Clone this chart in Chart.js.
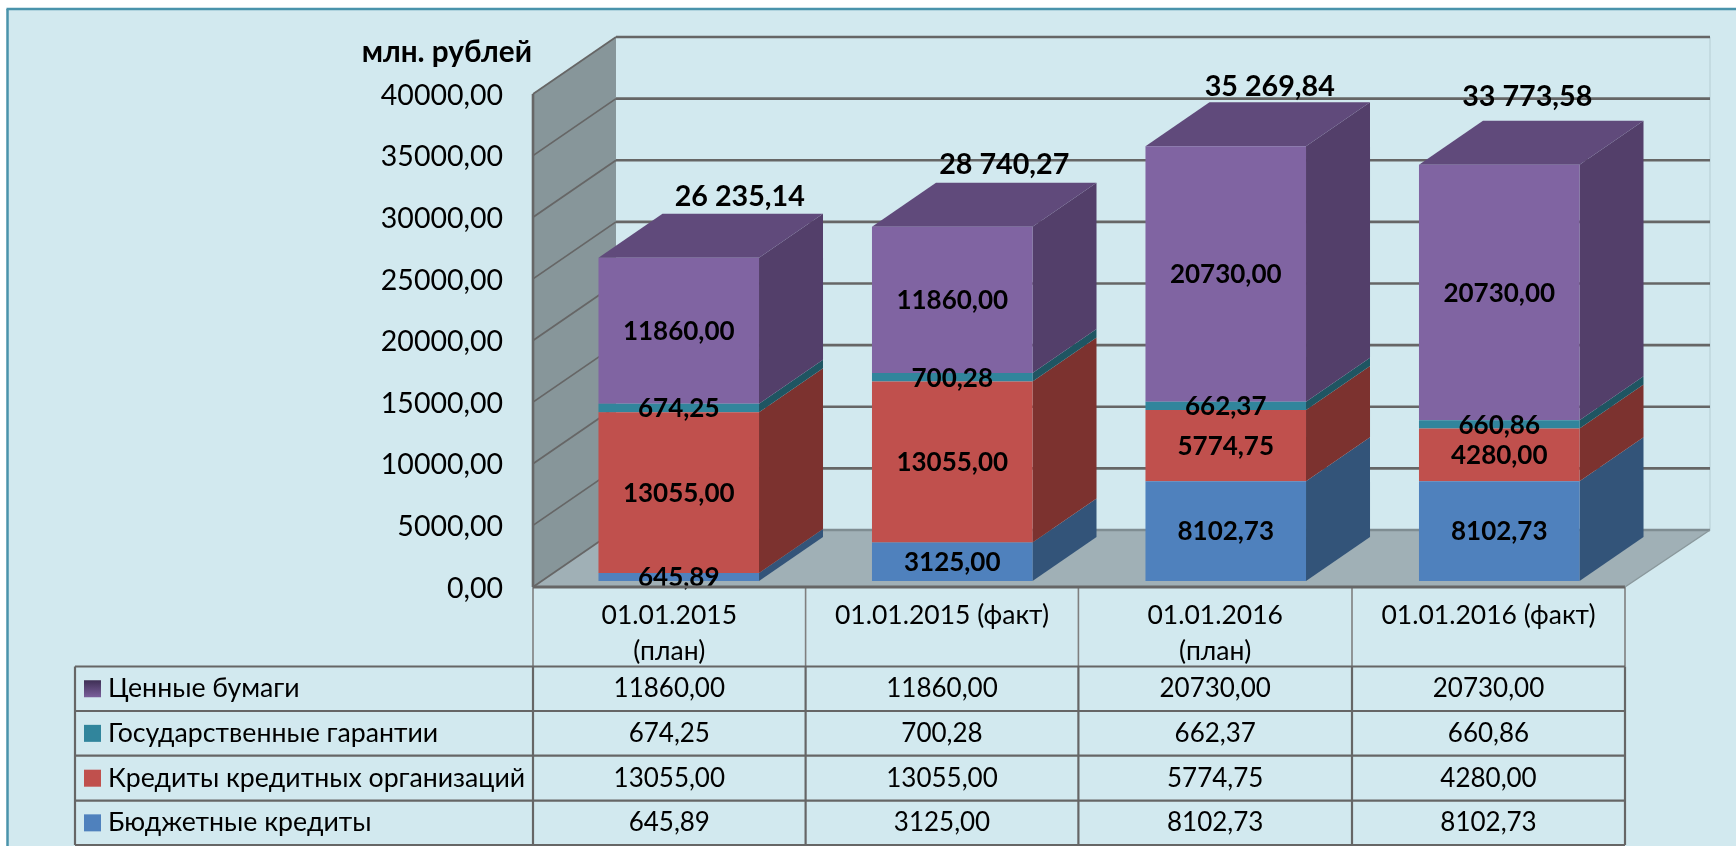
<!DOCTYPE html>
<html><head><meta charset="utf-8">
<style>html,body{margin:0;padding:0;background:#fff}canvas{display:block}</style>
<script src="https://cdn.jsdelivr.net/npm/chart.js@4"></script>
</head><body>
<canvas id="c" width="1736" height="846"></canvas>
<script>
const categories = ['01.01.2015 (план)', '01.01.2015 (факт)', '01.01.2016 (план)', '01.01.2016 (факт)'];
const headerLines = [['01.01.2015', '(план)'], ['01.01.2015 (факт)'], ['01.01.2016', '(план)'], ['01.01.2016 (факт)']];
const budgetCredits = [645.89, 3125.00, 8102.73, 8102.73];
const bankCredits = [13055.00, 13055.00, 5774.75, 4280.00];
const guarantees = [674.25, 700.28, 662.37, 660.86];
const securities = [11860.00, 11860.00, 20730.00, 20730.00];
const totals = ['26 235,14', '28 740,27', '35 269,84', '33 773,58'];
const totalOffsets = [[61, -61], [52, -62], [44, -60], [28, -68]];
const tickValues = [0, 5000, 10000, 15000, 20000, 25000, 30000, 35000, 40000];
const axisTitle = 'млн. рублей';

const FONT = 'Lato, Carlito, "Open Sans", sans-serif';
const fmt = v => v.toFixed(2).replace('.', ',');
const series = [
  {label: 'Бюджетные кредиты', data: budgetCredits, front: '#4f81bd', side: '#335479'},
  {label: 'Кредиты кредитных организаций', data: bankCredits, front: '#c0504d', side: '#7c322f'},
  {label: 'Государственные гарантии', data: guarantees, front: '#31859c', side: '#1f5562'},
  {label: 'Ценные бумаги', data: securities, front: '#8064a2', side: '#533f6a', top: '#604a7b'}
];
const G = {wallL: 533, wallDx: 83, wallDy: 57, floorR: 1625, backR: 1710, barDx: 64, barDy: 44, labelShift: 1.5,
  tableL: 75, colX: [533, 805.6, 1078.4, 1352, 1625], rowY: [587, 666.5, 711, 755.7, 800.7, 845]};

function poly(ctx, pts, fill) {
  ctx.beginPath();
  pts.forEach((p, i) => i ? ctx.lineTo(p[0], p[1]) : ctx.moveTo(p[0], p[1]));
  ctx.closePath();
  ctx.fillStyle = fill; ctx.fill();
}
function line(ctx, x0, y0, x1, y1, color, w) {
  ctx.beginPath(); ctx.moveTo(x0, y0); ctx.lineTo(x1, y1);
  ctx.strokeStyle = color; ctx.lineWidth = w; ctx.stroke();
}

const scene = {
  id: 'scene',
  beforeDraw(chart) {
    const ctx = chart.ctx;
    ctx.save();
    ctx.fillStyle = '#fff'; ctx.fillRect(0, 0, 1736, 846);
    ctx.fillStyle = '#d2e9ef'; ctx.fillRect(8, 9, 1728, 837);
    line(ctx, 6.5, 9, 1736, 9, '#4a93ab', 2.5);
    line(ctx, 7.5, 9, 7.5, 846, '#4a93ab', 2.5);
    ctx.restore();
  },
  beforeDatasetsDraw(chart) {
    const ctx = chart.ctx, ys = chart.scales.yTicks;
    const wy = v => ys.getPixelForValue(v) - G.labelShift;
    const y0 = wy(0), yMax = wy(40000);
    const bx = G.wallL + G.wallDx;
    ctx.save();
    // back edge, floor and side wall
    line(ctx, G.backR, yMax - G.wallDy, G.backR, y0 - G.wallDy, '#bfd6dd', 1.5);
    poly(ctx, [[G.wallL, y0], [bx, y0 - G.wallDy], [G.backR, y0 - G.wallDy], [G.floorR, y0]], '#a0b0b6');
    line(ctx, bx, y0 - G.wallDy, G.backR, y0 - G.wallDy, '#7f8d92', 2.5);
    poly(ctx, [[G.wallL, yMax], [bx, yMax - G.wallDy], [bx, y0 - G.wallDy], [G.wallL, y0]], '#87969a');
    tickValues.forEach(v => {
      const y = wy(v);
      line(ctx, G.wallL, y, bx, y - G.wallDy, '#666', 1.8);
      if (v > 0) line(ctx, bx, y - G.wallDy, G.backR, y - G.wallDy, '#666', 2.6);
    });
    line(ctx, G.wallL, yMax, G.wallL, y0, '#666', 2.6);
    // bar sides and tops
    series.forEach((s, i) => {
      chart.getDatasetMeta(i).data.forEach(el => {
        const x1 = el.x + el.width / 2, x0 = el.x - el.width / 2;
        poly(ctx, [[x1, el.y], [x1 + G.barDx, el.y - G.barDy], [x1 + G.barDx, el.base - G.barDy], [x1, el.base]], s.side);
        if (s.top) poly(ctx, [[x0, el.y], [x0 + G.barDx, el.y - G.barDy], [x1 + G.barDx, el.y - G.barDy], [x1, el.y]], s.top);
      });
    });
    ctx.restore();
  },
  afterDatasetsDraw(chart) {
    const ctx = chart.ctx, ys = chart.scales.yTicks;
    const y0 = ys.getPixelForValue(0) - G.labelShift;
    ctx.save();
    ctx.textAlign = 'center'; ctx.textBaseline = 'middle'; ctx.fillStyle = '#000';
    // segment labels
    ctx.font = 'bold 26px ' + FONT;
    series.forEach((s, i) => {
      chart.getDatasetMeta(i).data.forEach((el, j) => {
        ctx.fillText(fmt(s.data[j]), el.x, (el.y + el.base) / 2 + 1);
      });
    });
    // totals
    const top = chart.getDatasetMeta(series.length - 1).data;
    ctx.font = 'bold 28.7px ' + FONT;
    totals.forEach((t, j) => {
      ctx.fillText(t, top[j].x + totalOffsets[j][0], top[j].y + totalOffsets[j][1]);
    });
    // axis unit
    ctx.textAlign = 'right';
    ctx.font = 'bold 29.7px ' + FONT;
    ctx.fillText(axisTitle, 532, 52);

    // data table
    const c = G.colX, r = G.rowY;
    c.forEach((x, i) => line(ctx, x, y0, x, r[1], '#7f7f7f', 1.6));
    for (let i = 1; i < r.length; i++) line(ctx, G.tableL, r[i], c[4], r[i], '#666', 2.2);
    [G.tableL, ...c].forEach(x => line(ctx, x, r[1], x, r[5], '#666', 2.2));
    line(ctx, G.wallL, y0, G.floorR, y0, '#666', 3);
    line(ctx, G.floorR, y0, G.backR, y0 - G.wallDy, '#8a989c', 1.5);
    ctx.textAlign = 'center';
    ctx.font = '26.5px ' + FONT;
    headerLines.forEach((ls, i) => {
      const cx = (c[i] + c[i + 1]) / 2;
      ls.forEach((t, k) => ctx.fillText(t, cx, 615 + k * 36));
    });
    const rows = [...series].reverse();
    rows.forEach((s, k) => {
      const cy = (r[k + 1] + r[k + 2]) / 2;
      const sy = cy - 8.5;
      if (s.top) {
        const g = ctx.createLinearGradient(0, sy, 0, sy + 17);
        g.addColorStop(0, '#3f2f55'); g.addColorStop(1, '#7a5f9b');
        ctx.fillStyle = g;
      } else ctx.fillStyle = s.front;
      ctx.fillRect(84, sy, 17, 17);
      ctx.fillStyle = '#000';
      ctx.textAlign = 'left';
      ctx.font = '26.7px ' + FONT;
      ctx.fillText(s.label, 108, cy);
      ctx.textAlign = 'center';
      ctx.font = '26px ' + FONT;
      s.data.forEach((v, i) => ctx.fillText(fmt(v), (c[i] + c[i + 1]) / 2, cy));
    });
    ctx.restore();
  }
};

new Chart(document.getElementById('c'), {
  type: 'bar',
  data: {
    labels: categories,
    datasets: series.map(s => ({label: s.label, data: s.data, backgroundColor: s.front, yAxisID: 'yBars', barPercentage: 0.587, categoryPercentage: 1, borderWidth: 0}))
  },
  options: {
    responsive: false, animation: false, events: [],
    layout: {padding: {left: 342, right: 100, top: 88, bottom: 257.5}},
    plugins: {legend: {display: false}, tooltip: {enabled: false}, title: {display: false}},
    scales: {
      x: {stacked: true, display: false},
      yBars: {stacked: true, display: false, position: 'left', min: -608.5, max: 40000},
      yTicks: {
        position: 'left', min: 0, max: 40608.5,
        afterFit: s => { s.width = 200; },
        afterBuildTicks: s => { s.ticks = tickValues.map(value => ({value})); },
        grid: {display: false}, border: {display: false},
        ticks: {padding: 31, autoSkip: false, color: '#000', font: {family: FONT, size: 28.5}, callback: v => fmt(v)}
      }
    }
  },
  plugins: [scene]
});
</script>
</body></html>
